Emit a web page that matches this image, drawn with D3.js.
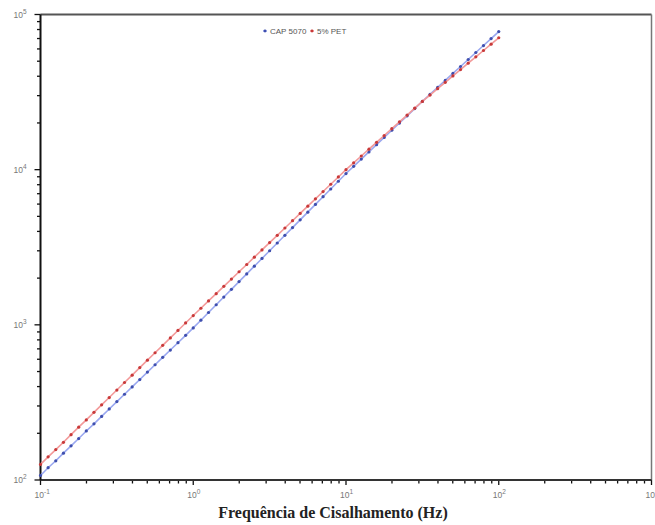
<!DOCTYPE html>
<html>
<head>
    <title>Frequencia de cisalhamento</title>
    <meta charset="utf-8">
    <script src="https://d3js.org/d3.v7.min.js"></script>
    <style>
        body {
            margin: 0;
            background: #fff;
        }

        svg {
            display: block;
        }

        .tick-label {
            font-family: "Liberation Sans", Arial, sans-serif;
            font-size: 8.5px;
            fill: #777;
        }

        .legend-text {
            font-family: "Liberation Sans", Arial, sans-serif;
            font-size: 8px;
            fill: #555;
        }

        .axis-title {
            font-family: "Liberation Serif", "Times New Roman", serif;
            font-size: 16px;
            font-weight: bold;
            fill: #222;
        }
    </style>
</head>
<body>
<svg width="655" height="525"></svg>
<script type="text/javascript">

// frequency (Hz), 20 points per decade
var frequency = [
    0.1, 0.1122, 0.1259, 0.1413, 0.1585, 0.1778, 0.1995, 0.2239, 0.2512, 0.2818,
    0.3162, 0.3548, 0.3981, 0.4467, 0.5012, 0.5623, 0.631, 0.7079, 0.7943, 0.8913,
    1, 1.122, 1.259, 1.413, 1.585, 1.778, 1.995, 2.239, 2.512, 2.818,
    3.162, 3.548, 3.981, 4.467, 5.012, 5.623, 6.31, 7.079, 7.943, 8.913,
    10, 11.22, 12.59, 14.13, 15.85, 17.78, 19.95, 22.39, 25.12, 28.18,
    31.62, 35.48, 39.81, 44.67, 50.12, 56.23, 63.1, 70.79, 79.43, 89.13,
    100
];

var cap5070 = [
    107, 120, 133, 149, 166, 185, 207, 230, 257, 287,
    320, 357, 398, 444, 496, 553, 617, 688, 767, 856,
    955, 1071, 1201, 1347, 1510, 1693, 1899, 2129, 2388, 2678,
    3003, 3367, 3776, 4234, 4748, 5324, 5970, 6695, 7507, 8418,
    9441, 10508, 11695, 13016, 14488, 16125, 17947, 19975, 22233, 24745,
    27542, 30549, 33884, 37584, 41687, 46238, 51286, 56885, 63096, 69984,
    77625
];

var pet5 = [
    126, 141, 157, 175, 196, 219, 244, 273, 305, 340,
    380, 425, 474, 530, 592, 661, 738, 824, 920, 1028,
    1148, 1279, 1426, 1589, 1770, 1972, 2198, 2449, 2729, 3041,
    3388, 3776, 4207, 4688, 5224, 5821, 6486, 7228, 8054, 8974,
    10000, 11066, 12246, 13552, 14997, 16596, 18365, 20324, 22491, 24889,
    27542, 30269, 33266, 36559, 40179, 44157, 48529, 53333, 58614, 64417,
    70795
];

var seriesNames = ['CAP 5070', '5% PET'];
var xDecades = [-1, 0, 1, 2, 3];
var yDecades = [2, 3, 4, 5];

var plotLeft = 40.5,
        plotRight = 651.5,
        plotTop = 14.5,
        plotBottom = 480,
        svg = d3.select('svg');

var x = d3.scaleLog().domain([0.1, 1000]).range([plotLeft, plotRight]);
var y = d3.scaleLog().domain([100, 100000]).range([plotBottom, plotTop]);

var series = [
    {name: seriesNames[0], values: cap5070, line: '#9aa8f0', dot: '#3f4fae'},
    {name: seriesNames[1], values: pet5, line: '#f39a9a', dot: '#c83a3a'}
];

// minor ticks 2..9 in every decade
function minorTicks(scale) {
    var d = scale.domain(), out = [];
    scale.ticks().forEach(function (t) {
        if (t >= d[0] && t <= d[1]) {
            out.push(t);
        }
    });
    return out;
}

function isDecade(v, decades) {
    return decades.indexOf(Math.round(Math.log10(v) * 1000) / 1000) >= 0;
}

// frame
svg.append('line')
        .attr('x1', plotLeft).attr('x2', plotRight)
        .attr('y1', plotTop).attr('y2', plotTop)
        .attr('stroke', '#555').attr('stroke-width', 2);
svg.append('line')
        .attr('x1', plotRight).attr('x2', plotRight)
        .attr('y1', plotTop).attr('y2', plotBottom)
        .attr('stroke', '#777').attr('stroke-width', 1.5);

// x axis
svg.append('g')
        .selectAll('line')
        .data(minorTicks(x))
        .enter()
        .append('line')
        .attr('x1', function (d) { return x(d); })
        .attr('x2', function (d) { return x(d); })
        .attr('y1', plotBottom)
        .attr('y2', function (d) {
            return isDecade(d, xDecades) ? plotBottom + 5 : plotBottom + 3.5;
        })
        .attr('stroke', '#111')
        .attr('stroke-width', 1.3);

svg.append('line')
        .attr('x1', plotLeft).attr('x2', plotRight)
        .attr('y1', plotBottom).attr('y2', plotBottom)
        .attr('stroke', '#333').attr('stroke-width', 2);

var xLabels = svg.append('g')
        .selectAll('text')
        .data(xDecades)
        .enter()
        .append('text')
        .attr('class', 'tick-label')
        .attr('x', function (d) { return x(Math.pow(10, d)) - 6; })
        .attr('y', plotBottom + 18);
xLabels.append('tspan').text('10');
xLabels.append('tspan')
        .attr('dy', -4)
        .style('font-size', '6.5px')
        .text(function (d) { return d; });

// y axis
svg.append('g')
        .selectAll('line')
        .data(minorTicks(y))
        .enter()
        .append('line')
        .attr('y1', function (d) { return y(d); })
        .attr('y2', function (d) { return y(d); })
        .attr('x1', plotLeft)
        .attr('x2', function (d) {
            return isDecade(d, yDecades) ? plotLeft - 6 : plotLeft - 3.5;
        })
        .attr('stroke', '#111')
        .attr('stroke-width', 1.3);

svg.append('line')
        .attr('x1', plotLeft).attr('x2', plotLeft)
        .attr('y1', plotTop).attr('y2', plotBottom)
        .attr('stroke', '#111').attr('stroke-width', 2);

var yLabels = svg.append('g')
        .selectAll('text')
        .data(yDecades)
        .enter()
        .append('text')
        .attr('class', 'tick-label')
        .attr('x', plotLeft - 27)
        .attr('y', function (d) { return y(Math.pow(10, d)) + 3; });
yLabels.append('tspan').text('10');
yLabels.append('tspan')
        .attr('dy', -4)
        .style('font-size', '6.5px')
        .text(function (d) { return d; });

// data
var line = d3.line()
        .x(function (d) { return x(d[0]); })
        .y(function (d) { return y(d[1]); });

series.forEach(function (s) {
    var pts = frequency.map(function (f, i) { return [f, s.values[i]]; });
    svg.append('path')
            .datum(pts)
            .attr('d', line)
            .attr('fill', 'none')
            .attr('stroke', s.line)
            .attr('stroke-width', 1.6);
    svg.append('g')
            .selectAll('circle')
            .data(pts)
            .enter()
            .append('circle')
            .attr('cx', function (d) { return x(d[0]); })
            .attr('cy', function (d) { return y(d[1]); })
            .attr('r', 1.6)
            .attr('fill', s.dot);
});

// legend
var legendX = [263, 310];
series.forEach(function (s, i) {
    svg.append('line')
            .attr('x1', legendX[i]).attr('x2', legendX[i] + 4)
            .attr('y1', 31).attr('y2', 31)
            .attr('stroke', s.line).attr('stroke-width', 1.5);
    svg.append('circle')
            .attr('cx', legendX[i] + 2).attr('cy', 31)
            .attr('r', 1.4)
            .attr('fill', s.dot);
    svg.append('text')
            .attr('class', 'legend-text')
            .attr('x', legendX[i] + 7)
            .attr('y', 34)
            .text(s.name);
});

svg.append('text')
        .attr('class', 'axis-title')
        .attr('x', 333)
        .attr('y', 518)
        .attr('text-anchor', 'middle')
        .text('Frequência de Cisalhamento (Hz)');

</script>
</body>
</html>
